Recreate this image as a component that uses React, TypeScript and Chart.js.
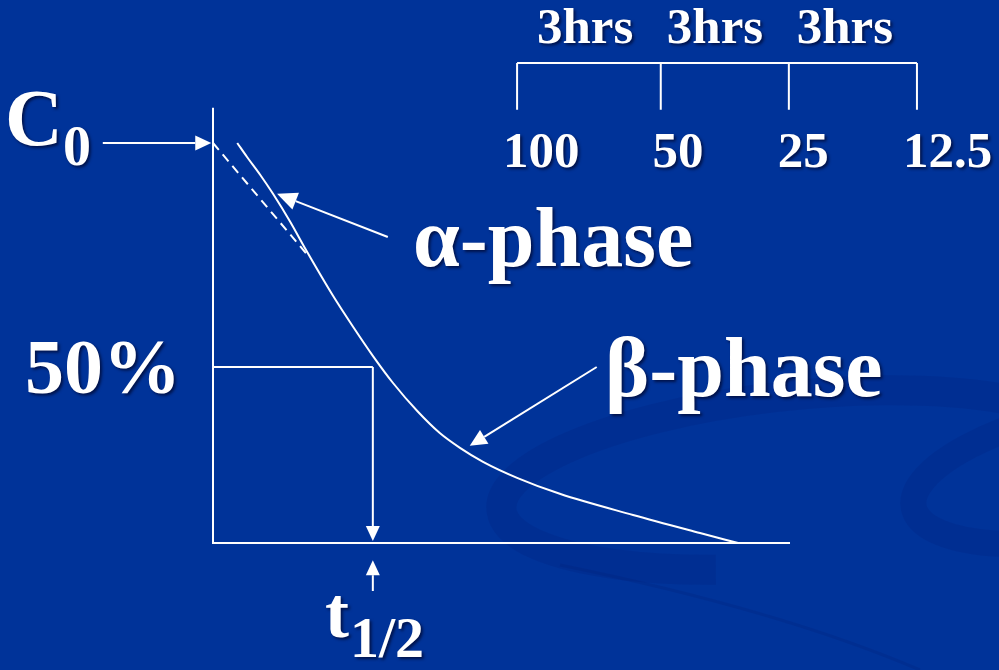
import React, { useEffect, useRef } from "react";
import { Chart, registerables } from "chart.js";

Chart.register(...registerables);

// ---- data (time in arbitrary units: 0..100 spans the time axis; concentration in % of C0) ----
const curveTime = [4.2, 5.9, 8.2, 10.4, 13.3, 16.1, 20.8, 24.3, 27.7, 31.2, 35.4, 39.3, 42.8, 46.8, 52.7, 60.1, 72.8, 84.4, 91.0];
const curveConc = [100, 96.5, 92, 87.3, 80.5, 73.3, 61.8, 54, 46.8, 40, 33, 27.5, 23.8, 20.3, 16.3, 12.3, 7.0, 2.5, 0];
const alphaTime = [0, 16.5];
const alphaConc = [100, 71.8];
const halfLevel = 44;
const halfTime = 27.7;
const axisTimeMax = 100;
const axisConcMax = 108.8;
const bracketTimes = [52.7, 77.6, 99.8, 122.0];
const bracketTop = 120;
const bracketBottom = 108.3;
const intervalLabels = ["3hrs", "3hrs", "3hrs"];
const levelLabels = ["100", "50", "25", "12.5"];

// ---- layout (label anchors in data units) ----
const intervalLabelX = [64.5, 87.0, 109.5];
const intervalLabelY = 125;
const levelLabelX = [56.9, 80.6, 102.3, 127.3];
const levelLabelY = 94;

const FONT = '"Liberation Serif", "Times New Roman", serif';

type Arrow = { from: [number, number]; to: [number, number]; len: number; half: number };
const arrows: Arrow[] = [
  { from: [-19.1, 100], to: [-0.3, 100], len: 16, half: 7.5 },
  { from: [30.3, 76.5], to: [11.1, 87.3], len: 20, half: 9 },
  { from: [66.5, 44], to: [44.5, 24.3], len: 17, half: 8 },
  { from: [halfTime, halfLevel], to: [halfTime, 0.5], len: 15, half: 7 },
  { from: [halfTime, -12], to: [halfTime, -4.3], len: 15, half: 7 },
];

const diagramPlugin = {
  id: "diagram",
  beforeDraw(chart: any) {
    const { ctx, width, height } = chart;
    ctx.save();
    ctx.fillStyle = "#003399";
    ctx.fillRect(0, 0, width, height);
    // faint background swooshes
    ctx.strokeStyle = "rgba(0, 30, 115, 0.18)";
    ctx.lineWidth = 30;
    ctx.beginPath();
    ctx.ellipse(800, 480, 300, 85, -0.1, Math.PI * 0.6, Math.PI * 1.75);
    ctx.stroke();
    ctx.lineWidth = 26;
    ctx.beginPath();
    ctx.ellipse(1100, 470, 190, 65, -0.2, Math.PI * 0.6, Math.PI * 1.45);
    ctx.stroke();
    ctx.lineWidth = 3;
    ctx.strokeStyle = "rgba(0, 30, 115, 0.2)";
    ctx.beginPath();
    ctx.moveTo(560, 565);
    ctx.quadraticCurveTo(780, 610, 920, 670);
    ctx.stroke();
    ctx.restore();
  },
  afterDatasetsDraw(chart: any) {
    const { ctx } = chart;
    const xs = chart.scales.x;
    const ys = chart.scales.y;
    const px = (v: number) => xs.getPixelForValue(v);
    const py = (v: number) => ys.getPixelForValue(v);
    ctx.save();
    // arrows
    ctx.strokeStyle = "#ffffff";
    ctx.fillStyle = "#ffffff";
    ctx.lineWidth = 2;
    arrows.forEach((a) => {
      const x1 = px(a.from[0]), y1 = py(a.from[1]);
      const x2 = px(a.to[0]), y2 = py(a.to[1]);
      const ang = Math.atan2(y2 - y1, x2 - x1);
      const bx = x2 - Math.cos(ang) * a.len, by = y2 - Math.sin(ang) * a.len;
      ctx.beginPath();
      ctx.moveTo(x1, y1);
      ctx.lineTo(bx, by);
      ctx.stroke();
      ctx.beginPath();
      ctx.moveTo(x2, y2);
      ctx.lineTo(bx + Math.sin(ang) * a.half, by - Math.cos(ang) * a.half);
      ctx.lineTo(bx - Math.sin(ang) * a.half, by + Math.cos(ang) * a.half);
      ctx.closePath();
      ctx.fill();
    });
    // texts
    ctx.shadowColor = "rgba(0, 0, 30, 0.65)";
    ctx.shadowOffsetX = 2;
    ctx.shadowOffsetY = 2;
    ctx.shadowBlur = 3;
    ctx.textBaseline = "alphabetic";
    const txt = (s: string, x: number, y: number, size: number, align: CanvasTextAlign) => {
      ctx.font = `bold ${size}px ${FONT}`;
      ctx.textAlign = align;
      ctx.fillText(s, px(x), py(y));
    };
    txt("C", -36.05, 99.5, 80, "left");
    txt("0", -26.0, 94.5, 56, "left");
    txt("α-phase", 34.66, 69.25, 84, "left");
    txt("β-phase", 67.94, 36.75, 84, "left");
    txt("50%", -32.58, 37.5, 78, "left");
    txt("t", 19.41, -23.5, 72, "left");
    txt("1/2", 23.74, -28.5, 58, "left");
    intervalLabels.forEach((s, i) => txt(s, intervalLabelX[i], intervalLabelY, 51, "center"));
    levelLabels.forEach((s, i) => txt(s, levelLabelX[i], levelLabelY, 51, "center"));
    ctx.restore();
  },
};

const lineStyle = {
  borderColor: "#ffffff",
  borderWidth: 2,
  pointRadius: 0,
  fill: false,
  tension: 0,
};

export default function App() {
  const ref = useRef<HTMLCanvasElement | null>(null);
  useEffect(() => {
    document.body.style.margin = "0";
    const canvas = ref.current;
    if (!canvas) return;
    const datasets: any[] = [
      {
        ...lineStyle,
        label: "concentration",
        data: curveTime.map((t, i) => ({ x: t, y: curveConc[i] })),
        cubicInterpolationMode: "monotone",
      },
      {
        ...lineStyle,
        label: "alpha extrapolation",
        data: alphaTime.map((t, i) => ({ x: t, y: alphaConc[i] })),
        borderDash: [9, 6],
      },
      {
        ...lineStyle,
        label: "axes",
        data: [
          { x: 0, y: axisConcMax },
          { x: 0, y: 0 },
          { x: axisTimeMax, y: 0 },
        ],
      },
      {
        ...lineStyle,
        label: "half level",
        data: [
          { x: 0, y: halfLevel },
          { x: halfTime, y: halfLevel },
        ],
      },
      {
        ...lineStyle,
        label: "bracket",
        data: [
          { x: bracketTimes[0], y: bracketTop },
          { x: bracketTimes[bracketTimes.length - 1], y: bracketTop },
        ],
      },
      ...bracketTimes.map((t) => ({
        ...lineStyle,
        label: "tick",
        data: [
          { x: t, y: bracketTop },
          { x: t, y: bracketBottom },
        ],
      })),
    ];
    const chart = new Chart(canvas, {
      type: "line",
      data: { datasets },
      options: {
        responsive: false,
        animation: false,
        events: [],
        layout: { padding: 0 },
        parsing: false as any,
        plugins: { legend: { display: false }, tooltip: { enabled: false } },
        scales: {
          x: { type: "linear", display: false, min: -36.915, max: 136.22 },
          y: { type: "linear", display: false, min: -31.75, max: 135.75 },
        },
      },
      plugins: [diagramPlugin],
    });
    return () => chart.destroy();
  }, []);
  return (
    <div style={{ position: "fixed", left: 0, top: 0, width: 999, height: 670 }}>
      <canvas ref={ref} width={999} height={670} style={{ display: "block" }} />
    </div>
  );
}
